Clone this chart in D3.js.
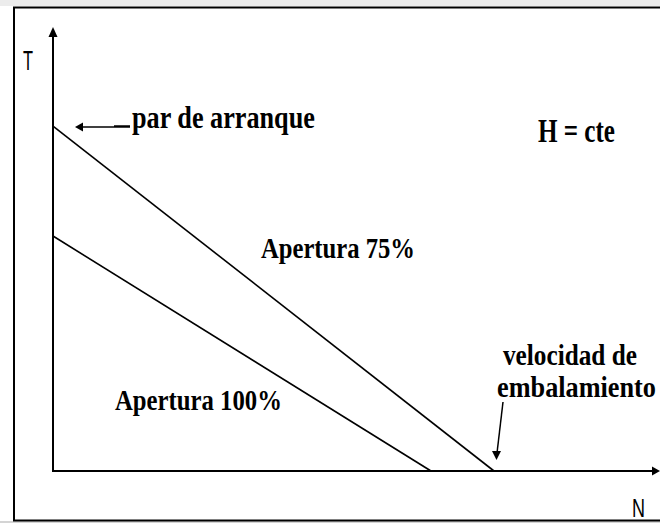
<!DOCTYPE html>
<html>
<head>
<meta charset="utf-8">
<style>
    body { margin: 0; background: white; }
    .lbl { font-family: "Liberation Serif", "Times New Roman", serif; font-weight: bold; fill: black; }
    .ax { font-family: "Liberation Sans", Arial, sans-serif; fill: black; }
</style>
<script src="https://d3js.org/d3.v7.min.js"></script>
</head>
<body>
<script>
    var width = 660, height = 523;

    // torque T vs speed N, both in arbitrary units (no ticks on the original)
    let seriesNames = ["Apertura 75%", "Apertura 100%"];
    let upperLine = [{n: 0, t: 78.4}, {n: 73.5, t: 0}];
    let lowerLine = [{n: 0, t: 53.4}, {n: 63, t: 0}];
    let series = [upperLine, lowerLine];

    let svg = d3.select("body").append("svg")
        .attr("width", width)
        .attr("height", height);

    // frame
    svg.append("rect").attr("x", 0).attr("y", 0).attr("width", width).attr("height", 6).attr("fill", "#ececec");
    svg.append("rect").attr("x", 0).attr("y", 521).attr("width", width).attr("height", 2).attr("fill", "#d4d4d4");
    svg.append("rect")
        .attr("x", 14).attr("y", 7.5)
        .attr("width", 700).attr("height", 513)
        .attr("fill", "none")
        .attr("stroke", "black")
        .attr("stroke-width", 2);

    let x = d3.scaleLinear().domain([0, 100]).range([53, 653]);
    let y = d3.scaleLinear().domain([0, 100]).range([471, 31]);

    // axes
    svg.append("line")
        .attr("x1", x(0)).attr("y1", y(0))
        .attr("x2", 656).attr("y2", y(0))
        .attr("stroke", "black").attr("stroke-width", 2);
    svg.append("path")
        .attr("d", "M660," + y(0) + "L652," + (y(0) - 4.5) + "L652," + (y(0) + 4.5) + "Z")
        .attr("fill", "black");
    svg.append("line")
        .attr("x1", x(0)).attr("y1", y(0) + 1)
        .attr("x2", x(0)).attr("y2", 32)
        .attr("stroke", "black").attr("stroke-width", 2);
    svg.append("path")
        .attr("d", "M" + x(0) + ",27L" + (x(0) - 4.5) + ",37L" + (x(0) + 4.5) + ",37Z")
        .attr("fill", "black");

    // squeeze a text horizontally so it spans len pixels
    function fit(sel, lx, ly, len) {
        let w = sel.node().getComputedTextLength();
        sel.attr("transform", "translate(" + lx + "," + ly + ") scale(" + (len / w) + ",1)");
    }

    fit(svg.append("text").attr("class", "ax").attr("font-size", 27).text("T"), 23, 70, 10);
    fit(svg.append("text").attr("class", "ax").attr("font-size", 25).text("N"), 632, 517, 13);

    let line = d3.line()
        .x(d => x(d.n))
        .y(d => y(d.t));

    series.forEach(s =>
        svg.append("path")
            .datum(s)
            .attr("d", line)
            .attr("fill", "none")
            .attr("stroke", "black")
            .attr("stroke-width", 1.6)
    );

    function label(txt, lx, ly, len, size) {
        let t = svg.append("text").attr("class", "lbl")
            .attr("font-size", size)
            .text(txt);
        fit(t, lx, ly, len);
    }

    label(seriesNames[0], 261, 258, 154, 29);
    label(seriesNames[1], 115, 410, 167, 30);
    label("par de arranque", 132, 128, 183, 31);
    label("H = cte", 538, 142, 77, 33);
    label("velocidad de", 503, 365, 134, 30);
    label("embalamiento", 497, 397, 159, 30);

    // arrow to starting torque
    svg.append("line")
        .attr("x1", 79).attr("y1", 127).attr("x2", 114).attr("y2", 127)
        .attr("stroke", "black").attr("stroke-width", 1.5);
    svg.append("line")
        .attr("x1", 114).attr("y1", 126.5).attr("x2", 130).attr("y2", 126.5)
        .attr("stroke", "black").attr("stroke-width", 2.5);
    svg.append("path")
        .attr("d", "M75,127L83,122.5L83,131.5Z")
        .attr("fill", "black");

    // arrow to runaway speed
    svg.append("line")
        .attr("x1", 503).attr("y1", 402).attr("x2", 497).attr("y2", 453)
        .attr("stroke", "black").attr("stroke-width", 1.5);
    svg.append("path")
        .attr("d", "M496.5,460L492,451L501,451Z")
        .attr("fill", "black");
</script>
</body>
</html>
